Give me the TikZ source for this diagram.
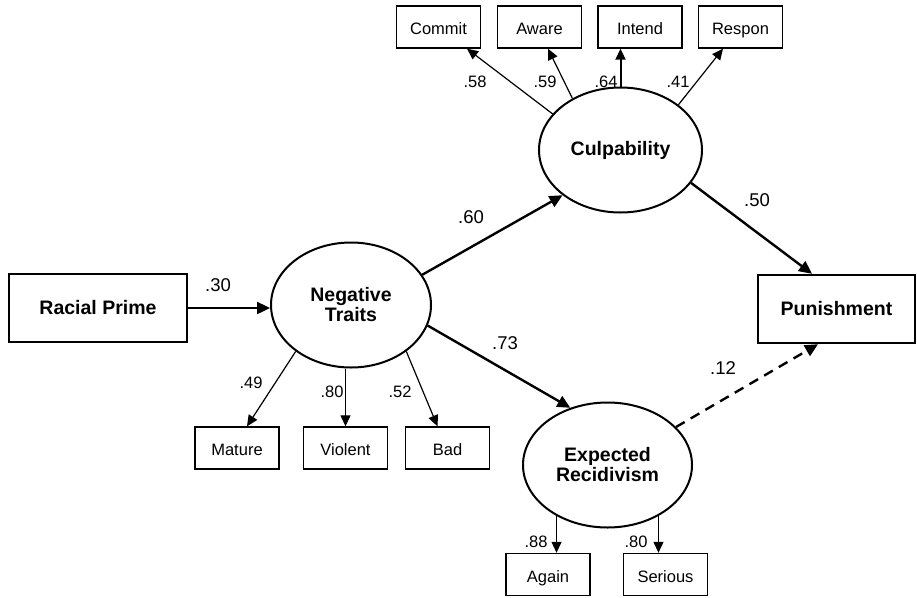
\documentclass[tikz,border=0pt]{standalone}
\usepackage{fontspec}
\setmainfont{Liberation Sans}
\usetikzlibrary{arrows.meta,shapes.geometric,calc}
\begin{document}
\begin{tikzpicture}[x=1pt,y=-1pt,
  bigbox/.style={draw,line width=2.4pt,rectangle,inner sep=0pt,minimum width=#1,minimum height=68pt,font=\fontsize{19.5}{22}\selectfont\bfseries},
  smallbox/.style={draw,line width=1.4pt,rectangle,inner sep=0pt,minimum width=84pt,minimum height=42pt,text height=15pt,text depth=0pt,font=\fontsize{16.5}{19}\selectfont},
  latent/.style={draw,line width=2pt,ellipse,inner sep=0pt,minimum width=#1,minimum height=125pt,align=center,font=\fontsize{19.5}{22}\selectfont\bfseries},
  mainarr/.style={line width=2.4pt,-{Triangle[length=13pt,width=12pt]}},
  indarr/.style={line width=1.2pt,-{Triangle[length=11pt,width=10pt]}},
  bigcoef/.style={font=\fontsize{18.5}{20}\selectfont,inner sep=0pt},
  smallcoef/.style={font=\fontsize{16.5}{18}\selectfont,inner sep=0pt}]
\useasboundingbox (0,0) rectangle (917,597);

% main nodes
\node[bigbox=178pt] (rp) at (98,308) {Racial Prime};
\node[bigbox=157pt] (pun) at (836.5,309) {Punishment};
\node[latent=160pt] (nt) at (351,305) {Negative\\[-2pt]Traits};
\node[latent=163pt] (cu) at (620.5,150) {Culpability};
\node[latent=169pt] (er) at (607.5,465) {Expected\\[-2pt]Recidivism};

% indicator boxes
\node[smallbox] (commit) at (438.5,27) {Commit};
\node[smallbox] (aware) at (539.5,27) {Aware};
\node[smallbox] (intend) at (640,27) {Intend};
\node[smallbox] (respon) at (740.5,27) {Respon};
\node[smallbox] (mature) at (237,448) {Mature};
\node[smallbox] (violent) at (345.5,448) {Violent};
\node[smallbox] (bad) at (447.5,448) {Bad};
\node[smallbox] (again) at (548,574.5) {Again};
\node[smallbox] (serious) at (665.5,574.5) {Serious};

% structural paths
\draw[mainarr] (rp.east) -- (rp.east -| nt.west);
\draw[mainarr] (nt.23) -- (cu.218);
\draw[mainarr] (nt.-15) -- (er.123);
\draw[mainarr] (cu.-25) -- ($(pun.north)+(-24.5,0)$);
\draw[mainarr,dashed,dash pattern=on 10pt off 7pt] (er.29) -- ($(pun.south)+(-18.5,0)$);

% measurement paths
\draw[indarr] (cu.152) -- ($(commit.south)+(28.5,0)$);
\draw[indarr] (cu.133) -- ($(aware.south)+(8.5,0)$);
\draw[indarr,line width=2pt] (cu.north) -- (cu.north |- intend.south);
\draw[indarr] (cu.38) -- ($(respon.south)+(-17.5,0)$);
\draw[indarr] (nt.220) -- ($(mature.north)+(10,0)$);
\draw[indarr] (violent.north |- nt.south) -- (violent.north);
\draw[indarr] (nt.320) -- ($(bad.north)+(-10,0)$);
\draw[indarr] (er.225) -- (er.225 |- again.north);
\draw[indarr] (er.-45) -- (er.-45 |- serious.north);

% coefficients
\node[bigcoef] (l30) at (218,285) {.30};
\node[bigcoef] (l60) at (471,217) {.60};
\node[bigcoef] (l73) at (505,343) {.73};
\node[bigcoef] (l50) at (757,200) {.50};
\node[bigcoef] (l12) at (723,368) {.12};
\node[smallcoef] (l58) at (475,82) {.58};
\node[smallcoef] (l59) at (545,82) {.59};
\node[smallcoef] (l64) at (606,82) {.64};
\node[smallcoef] (l41) at (678,82) {.41};
\node[smallcoef] (l49) at (251,383) {.49};
\node[smallcoef] (l80a) at (332,392) {.80};
\node[smallcoef] (l52) at (400,392) {.52};
\node[smallcoef] (l88) at (536,542) {.88};
\node[smallcoef] (l80b) at (636,542) {.80};
\end{tikzpicture}
\end{document}
